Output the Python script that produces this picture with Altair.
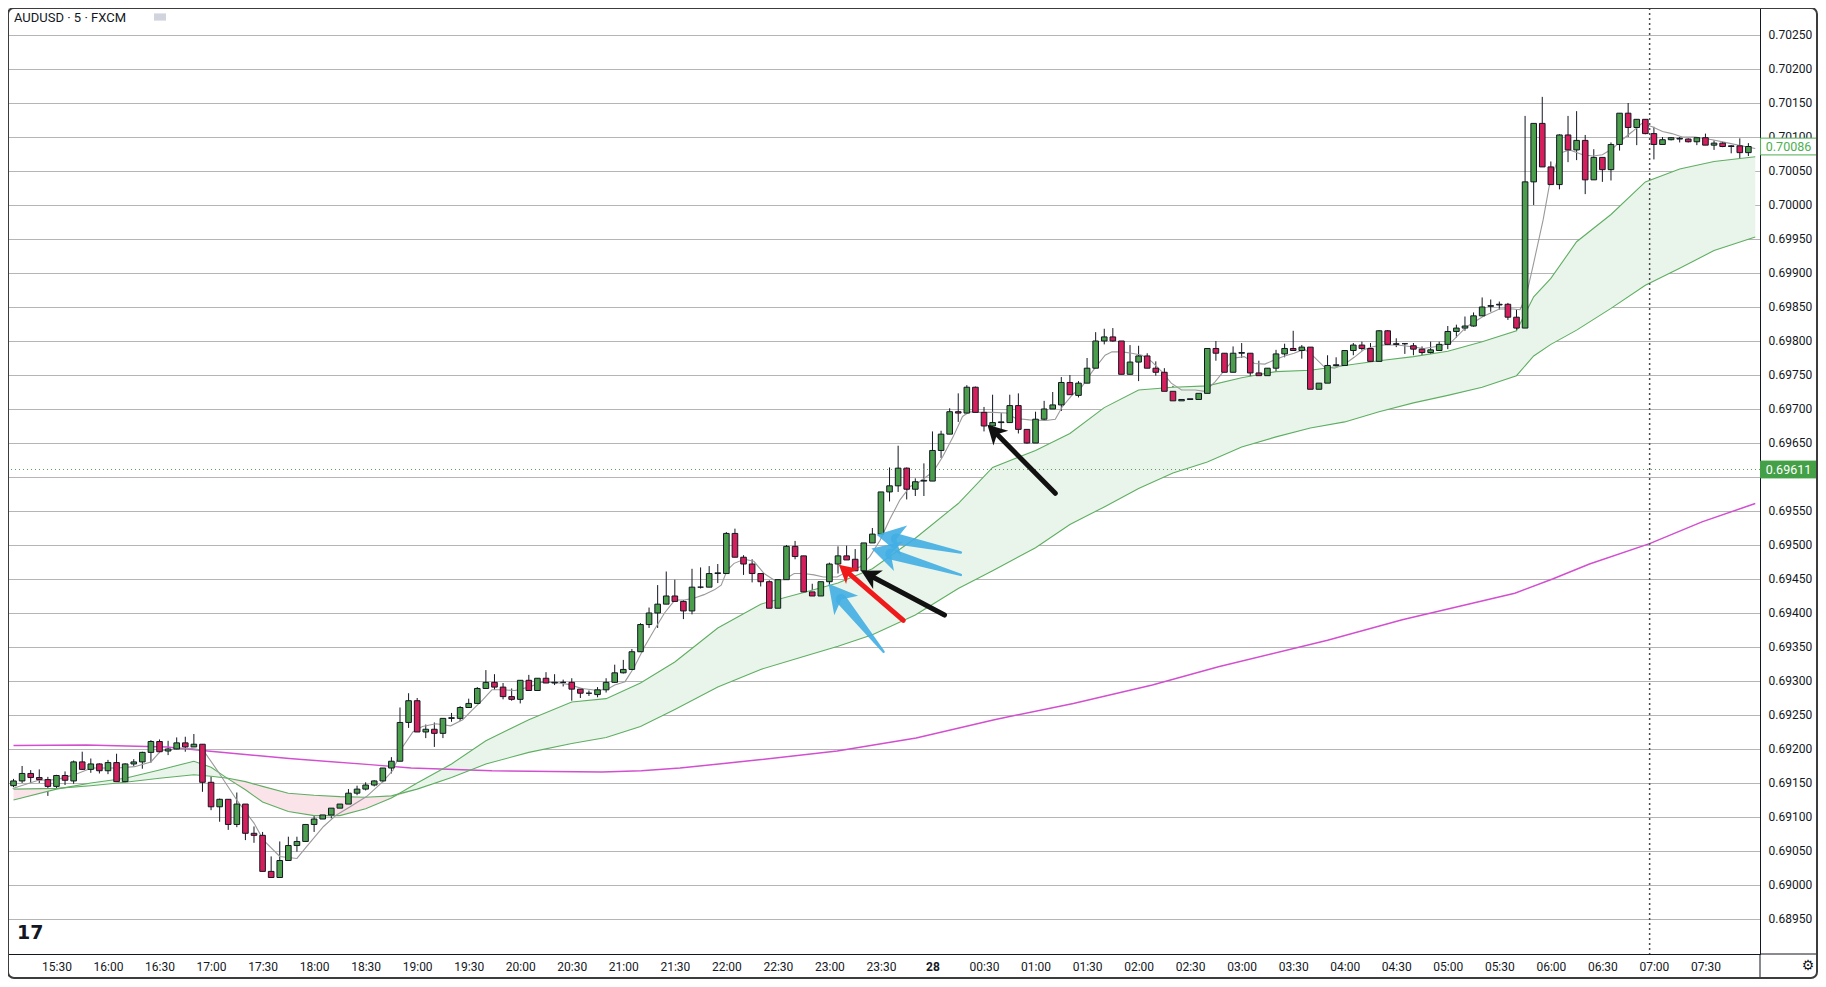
import math
import altair as alt
import pandas as pd

# ---------------- data ----------------
# 5-minute bars, index 0 = 15:30
bar_index = list(range(-5, 198))

open_ = [0.69146, 0.69153, 0.69164, 0.69158, 0.69155, 0.69145, 0.69161, 0.69153, 0.69181, 0.69170,
         0.69178, 0.69168, 0.69180, 0.69152, 0.69178, 0.69181, 0.69195, 0.69211, 0.69197, 0.69200,
         0.69209, 0.69203, 0.69207, 0.69151, 0.69115, 0.69126, 0.69089, 0.69119, 0.69076, 0.69073,
         0.69020, 0.69011, 0.69036, 0.69058, 0.69064, 0.69089, 0.69097, 0.69103, 0.69113, 0.69119,
         0.69135, 0.69141, 0.69147, 0.69153, 0.69172, 0.69182, 0.69239, 0.69271, 0.69225, 0.69229,
         0.69223, 0.69245, 0.69245, 0.69261, 0.69267, 0.69289, 0.69298, 0.69291, 0.69277, 0.69273,
         0.69301, 0.69286, 0.69304, 0.69297, 0.69298, 0.69298, 0.69288, 0.69282, 0.69280, 0.69287,
         0.69298, 0.69312, 0.69317, 0.69343, 0.69383, 0.69400, 0.69413, 0.69425, 0.69417, 0.69403,
         0.69438, 0.69438, 0.69458, 0.69458, 0.69517, 0.69482, 0.69472, 0.69458, 0.69446, 0.69407,
         0.69449, 0.69498, 0.69484, 0.69431, 0.69425, 0.69446, 0.69472, 0.69484, 0.69479, 0.69462,
         0.69503, 0.69516, 0.69578, 0.69587, 0.69613, 0.69582, 0.69594, 0.69594, 0.69639, 0.69663,
         0.69696, 0.69694, 0.69732, 0.69695, 0.69675, 0.69680, 0.69680, 0.69705, 0.69670, 0.69650,
         0.69685, 0.69700, 0.69706, 0.69739, 0.69720, 0.69738, 0.69760, 0.69800, 0.69806, 0.69800,
         0.69751, 0.69769, 0.69778, 0.69760, 0.69754, 0.69726, 0.69712, 0.69714, 0.69714, 0.69723,
         0.69789, 0.69782, 0.69754, 0.69782, 0.69782, 0.69753, 0.69749, 0.69760, 0.69781, 0.69789,
         0.69786, 0.69791, 0.69729, 0.69738, 0.69764, 0.69764, 0.69786, 0.69794, 0.69789, 0.69770,
         0.69815, 0.69796, 0.69796, 0.69793, 0.69788, 0.69783, 0.69786, 0.69795, 0.69814, 0.69819,
         0.69822, 0.69837, 0.69851, 0.69854, 0.69854, 0.69835, 0.69819, 0.70034, 0.70120, 0.70056,
         0.70030, 0.70103, 0.70081, 0.70095, 0.70037, 0.70070, 0.70052, 0.70089, 0.70135, 0.70114,
         0.70126, 0.70105, 0.70089, 0.70096, 0.70098, 0.70097, 0.70093, 0.70099, 0.70088, 0.70091,
         0.70087, 0.70087, 0.70077]

high = [0.69156, 0.69175, 0.69169, 0.69170, 0.69159, 0.69162, 0.69167, 0.69183, 0.69196, 0.69186,
        0.69179, 0.69184, 0.69193, 0.69179, 0.69185, 0.69196, 0.69213, 0.69214, 0.69212, 0.69217,
        0.69218, 0.69222, 0.69207, 0.69160, 0.69127, 0.69126, 0.69136, 0.69119, 0.69086, 0.69078,
        0.69042, 0.69064, 0.69071, 0.69071, 0.69089, 0.69106, 0.69115, 0.69122, 0.69127, 0.69141,
        0.69146, 0.69151, 0.69154, 0.69172, 0.69188, 0.69261, 0.69282, 0.69275, 0.69236, 0.69239,
        0.69245, 0.69253, 0.69263, 0.69274, 0.69291, 0.69316, 0.69310, 0.69297, 0.69289, 0.69301,
        0.69309, 0.69304, 0.69313, 0.69310, 0.69302, 0.69304, 0.69288, 0.69286, 0.69291, 0.69304,
        0.69324, 0.69331, 0.69347, 0.69385, 0.69408, 0.69441, 0.69461, 0.69449, 0.69419, 0.69465,
        0.69467, 0.69469, 0.69472, 0.69519, 0.69524, 0.69485, 0.69479, 0.69458, 0.69448, 0.69450,
        0.69500, 0.69506, 0.69484, 0.69443, 0.69446, 0.69474, 0.69498, 0.69499, 0.69494, 0.69503,
        0.69525, 0.69578, 0.69614, 0.69646, 0.69614, 0.69598, 0.69620, 0.69667, 0.69668, 0.69701,
        0.69723, 0.69735, 0.69733, 0.69703, 0.69721, 0.69694, 0.69721, 0.69723, 0.69670, 0.69696,
        0.69712, 0.69725, 0.69747, 0.69750, 0.69741, 0.69775, 0.69813, 0.69818, 0.69819, 0.69800,
        0.69794, 0.69793, 0.69782, 0.69770, 0.69760, 0.69734, 0.69730, 0.69727, 0.69728, 0.69789,
        0.69800, 0.69782, 0.69792, 0.69797, 0.69782, 0.69771, 0.69760, 0.69787, 0.69796, 0.69815,
        0.69794, 0.69791, 0.69738, 0.69779, 0.69776, 0.69786, 0.69797, 0.69799, 0.69797, 0.69816,
        0.69816, 0.69804, 0.69797, 0.69797, 0.69792, 0.69799, 0.69799, 0.69822, 0.69824, 0.69836,
        0.69842, 0.69864, 0.69861, 0.69858, 0.69856, 0.69846, 0.70131, 0.70120, 0.70159, 0.70064,
        0.70104, 0.70131, 0.70138, 0.70103, 0.70082, 0.70070, 0.70092, 0.70135, 0.70150, 0.70126,
        0.70126, 0.70115, 0.70100, 0.70100, 0.70100, 0.70098, 0.70100, 0.70105, 0.70095, 0.70093,
        0.70088, 0.70098, 0.70091]

low = [0.69144, 0.69150, 0.69150, 0.69150, 0.69131, 0.69142, 0.69147, 0.69149, 0.69169, 0.69165,
       0.69164, 0.69163, 0.69150, 0.69151, 0.69175, 0.69171, 0.69180, 0.69194, 0.69191, 0.69199,
       0.69196, 0.69203, 0.69137, 0.69110, 0.69093, 0.69081, 0.69085, 0.69066, 0.69062, 0.69020,
       0.69011, 0.69011, 0.69036, 0.69049, 0.69064, 0.69078, 0.69097, 0.69098, 0.69110, 0.69111,
       0.69132, 0.69139, 0.69145, 0.69151, 0.69164, 0.69182, 0.69231, 0.69225, 0.69216, 0.69203,
       0.69216, 0.69240, 0.69241, 0.69261, 0.69266, 0.69289, 0.69287, 0.69273, 0.69271, 0.69267,
       0.69286, 0.69286, 0.69297, 0.69294, 0.69292, 0.69271, 0.69275, 0.69278, 0.69276, 0.69283,
       0.69297, 0.69311, 0.69316, 0.69343, 0.69378, 0.69378, 0.69413, 0.69417, 0.69391, 0.69398,
       0.69436, 0.69438, 0.69444, 0.69458, 0.69482, 0.69456, 0.69445, 0.69439, 0.69407, 0.69400,
       0.69449, 0.69479, 0.69431, 0.69398, 0.69425, 0.69433, 0.69458, 0.69478, 0.69462, 0.69462,
       0.69503, 0.69516, 0.69564, 0.69578, 0.69567, 0.69572, 0.69572, 0.69594, 0.69628, 0.69663,
       0.69681, 0.69694, 0.69695, 0.69667, 0.69672, 0.69667, 0.69680, 0.69664, 0.69649, 0.69650,
       0.69683, 0.69700, 0.69697, 0.69721, 0.69717, 0.69738, 0.69760, 0.69795, 0.69799, 0.69751,
       0.69751, 0.69741, 0.69760, 0.69749, 0.69702, 0.69707, 0.69708, 0.69712, 0.69708, 0.69722,
       0.69771, 0.69754, 0.69754, 0.69775, 0.69744, 0.69745, 0.69749, 0.69751, 0.69776, 0.69786,
       0.69774, 0.69729, 0.69724, 0.69738, 0.69761, 0.69760, 0.69779, 0.69786, 0.69766, 0.69770,
       0.69795, 0.69791, 0.69781, 0.69779, 0.69768, 0.69778, 0.69786, 0.69788, 0.69805, 0.69815,
       0.69821, 0.69837, 0.69843, 0.69846, 0.69831, 0.69761, 0.69819, 0.70000, 0.70056, 0.70030,
       0.70023, 0.70063, 0.70066, 0.70016, 0.70037, 0.70034, 0.70036, 0.70080, 0.70100, 0.70088,
       0.70104, 0.70067, 0.70089, 0.70095, 0.70092, 0.70092, 0.70088, 0.70088, 0.70081, 0.70085,
       0.70076, 0.70066, 0.70072]

close = [0.69153, 0.69164, 0.69158, 0.69155, 0.69145, 0.69161, 0.69154, 0.69181, 0.69170, 0.69178,
         0.69168, 0.69180, 0.69152, 0.69178, 0.69181, 0.69195, 0.69211, 0.69196, 0.69200, 0.69209,
         0.69203, 0.69207, 0.69151, 0.69115, 0.69126, 0.69089, 0.69119, 0.69076, 0.69073, 0.69020,
         0.69011, 0.69036, 0.69058, 0.69064, 0.69089, 0.69097, 0.69103, 0.69113, 0.69119, 0.69135,
         0.69141, 0.69147, 0.69153, 0.69172, 0.69182, 0.69239, 0.69271, 0.69225, 0.69229, 0.69223,
         0.69245, 0.69246, 0.69261, 0.69267, 0.69289, 0.69298, 0.69291, 0.69277, 0.69273, 0.69301,
         0.69286, 0.69304, 0.69297, 0.69298, 0.69298, 0.69288, 0.69282, 0.69282, 0.69287, 0.69298,
         0.69312, 0.69317, 0.69343, 0.69383, 0.69400, 0.69413, 0.69425, 0.69417, 0.69403, 0.69438,
         0.69438, 0.69458, 0.69459, 0.69517, 0.69482, 0.69472, 0.69458, 0.69446, 0.69407, 0.69449,
         0.69498, 0.69483, 0.69431, 0.69425, 0.69446, 0.69472, 0.69484, 0.69478, 0.69462, 0.69503,
         0.69516, 0.69578, 0.69587, 0.69613, 0.69582, 0.69593, 0.69595, 0.69639, 0.69663, 0.69696,
         0.69694, 0.69732, 0.69695, 0.69675, 0.69680, 0.69681, 0.69705, 0.69670, 0.69650, 0.69685,
         0.69700, 0.69706, 0.69739, 0.69721, 0.69738, 0.69760, 0.69800, 0.69806, 0.69800, 0.69751,
         0.69769, 0.69778, 0.69760, 0.69754, 0.69726, 0.69712, 0.69714, 0.69715, 0.69723, 0.69789,
         0.69782, 0.69754, 0.69782, 0.69783, 0.69753, 0.69749, 0.69760, 0.69781, 0.69789, 0.69786,
         0.69791, 0.69729, 0.69738, 0.69764, 0.69765, 0.69786, 0.69794, 0.69789, 0.69770, 0.69815,
         0.69795, 0.69795, 0.69796, 0.69788, 0.69783, 0.69787, 0.69795, 0.69814, 0.69819, 0.69822,
         0.69837, 0.69850, 0.69852, 0.69853, 0.69835, 0.69819, 0.70034, 0.70120, 0.70056, 0.70030,
         0.70103, 0.70081, 0.70095, 0.70037, 0.70070, 0.70052, 0.70089, 0.70135, 0.70114, 0.70126,
         0.70105, 0.70089, 0.70096, 0.70099, 0.70097, 0.70093, 0.70099, 0.70088, 0.70091, 0.70086,
         0.70086, 0.70077, 0.70086]

# time axis
time_tick_index = [0, 6, 12, 18, 24, 30, 36, 42, 48, 54, 60, 66, 72, 78, 84, 90, 96,
                   102, 108, 114, 120, 126, 132, 138, 144, 150, 156, 162, 168, 174, 180, 186, 192]
time_tick_labels = ["15:30", "16:00", "16:30", "17:00", "17:30", "18:00", "18:30", "19:00",
                    "19:30", "20:00", "20:30", "21:00", "21:30", "22:00", "22:30", "23:00",
                    "23:30", "28", "00:30", "01:00", "01:30", "02:00", "02:30", "03:00",
                    "03:30", "04:00", "04:30", "05:00", "05:30", "06:00", "06:30", "07:00", "07:30"]
price_ticks = [0.6895, 0.6900, 0.6905, 0.6910, 0.6915, 0.6920, 0.6925, 0.6930, 0.6935,
               0.6940, 0.6945, 0.6950, 0.6955, 0.6960, 0.6965, 0.6970, 0.6975, 0.6980,
               0.6985, 0.6990, 0.6995, 0.7000, 0.7005, 0.7010, 0.7015, 0.7020, 0.7025]
hidden_price_label = 0.6960   # covered by the marked-price tag in the reference

# thin gray moving average
gray_i = [-5.1, -2.1, 0, 2.1, 4.1, 7.1, 9.1, 11.0, 12.2, 14.1,
          15.6, 17.1, 18.7, 21.0, 23.0, 24.1, 26.0, 28.0, 29.1, 31.1,
          32.6, 34.2, 36.1, 38.0, 39.2, 40.3, 41.5, 42.6, 44.2, 45.9,
          47.3, 48.4, 49.6, 50.7, 51.9, 53.4, 55.0, 56.5, 58.1, 59.6,
          61.2, 63.1, 64.3, 65.0, 66.2, 67.3, 68.5, 69.6, 70.8, 72.0,
          73.1, 74.3, 75.4, 76.6, 77.4, 78.1, 78.9, 80.1, 81.2, 82.4,
          83.5, 84.7, 85.9, 87.0, 88.2, 89.3, 90.9, 92.4, 93.6, 94.7,
          95.9, 97.0, 98.2, 99.4, 100.5, 102.1, 103.2, 104.4, 105.5, 106.3,
          107.5, 109.0, 110.6, 111.7, 113.3, 115.2, 116.3, 117.1, 118.3, 119.4,
          120.6, 122.1, 122.9, 124.1, 125.2, 126.4, 127.5, 128.7, 129.8, 131.0,
          132.6, 133.7, 134.9, 136.0, 137.2, 138.3, 139.5, 140.7, 141.8, 143.0,
          144.1, 145.3, 146.4, 147.6, 148.8, 149.9, 151.1, 152.2, 153.4, 154.5,
          156.1, 157.6, 159.2, 160.7, 162.3, 164.2, 166.1, 168.0, 169.6, 170.4,
          171.1, 171.9, 173.1, 173.8, 175.0, 176.2, 177.7, 178.9, 180.0, 181.2,
          182.3, 183.5, 184.6, 185.8, 187.0, 188.1, 189.3, 190.8, 192.8, 194.7,
          196.6, 197.8]
gray_p = [0.69142, 0.69154, 0.69155, 0.69162, 0.69172, 0.69172, 0.69174, 0.69181, 0.69198, 0.69200,
          0.69201, 0.69198, 0.69169, 0.69125, 0.69091, 0.69066, 0.69042, 0.69039, 0.69056, 0.69086,
          0.69103, 0.69115, 0.69130, 0.69152, 0.69169, 0.69203, 0.69225, 0.69233, 0.69237, 0.69234,
          0.69243, 0.69257, 0.69272, 0.69287, 0.69287, 0.69286, 0.69291, 0.69298, 0.69298, 0.69295,
          0.69289, 0.69286, 0.69289, 0.69294, 0.69299, 0.69321, 0.69351, 0.69375, 0.69400, 0.69419,
          0.69419, 0.69422, 0.69427, 0.69434, 0.69441, 0.69463, 0.69473, 0.69479, 0.69476, 0.69458,
          0.69449, 0.69449, 0.69458, 0.69458, 0.69456, 0.69453, 0.69453, 0.69463, 0.69468, 0.69483,
          0.69507, 0.69537, 0.69566, 0.69586, 0.69593, 0.69608, 0.69630, 0.69659, 0.69689, 0.69696,
          0.69695, 0.69695, 0.69694, 0.69686, 0.69684, 0.69683, 0.69685, 0.69703, 0.69721, 0.69733,
          0.69755, 0.69779, 0.69784, 0.69784, 0.69782, 0.69779, 0.69770, 0.69755, 0.69738, 0.69728,
          0.69728, 0.69726, 0.69740, 0.69757, 0.69775, 0.69777, 0.69767, 0.69766, 0.69772, 0.69778,
          0.69782, 0.69788, 0.69777, 0.69762, 0.69760, 0.69765, 0.69776, 0.69787, 0.69792, 0.69794,
          0.69794, 0.69792, 0.69789, 0.69792, 0.69797, 0.69821, 0.69836, 0.69847, 0.69847, 0.69846,
          0.69865, 0.69909, 0.69978, 0.70027, 0.70076, 0.70081, 0.70074, 0.70072, 0.70074, 0.70083,
          0.70096, 0.70108, 0.70120, 0.70115, 0.70108, 0.70105, 0.70100, 0.70100, 0.70096, 0.70091,
          0.70086, 0.70083]

# the two green averages (fast / slow) with the band between them
band_i = [-5, 0, 4, 8, 12, 16, 18, 20, 22, 24, 27, 30, 33, 36, 39, 42, 46, 50, 55, 60,
          64, 68, 72, 77, 82, 87, 91, 95, 100, 105, 109, 114, 118, 122, 126, 130, 134, 138,
          142, 146, 150, 154, 158, 162, 166, 170, 172, 174, 177, 181, 185, 189, 193, 197.8]
band_fast = [0.69125, 0.69141, 0.69150, 0.69157, 0.69169, 0.69182, 0.69173, 0.69156, 0.69140, 0.69122,
             0.69108, 0.69102, 0.69102, 0.69112, 0.69128, 0.69150, 0.69178, 0.69212, 0.69243, 0.69269,
             0.69274, 0.69297, 0.69328, 0.69378, 0.69413, 0.69430, 0.69444, 0.69465, 0.69510, 0.69561,
             0.69614, 0.69639, 0.69664, 0.69702, 0.69728, 0.69732, 0.69734, 0.69746, 0.69755, 0.69757,
             0.69764, 0.69771, 0.69777, 0.69785, 0.69799, 0.69815, 0.69865, 0.69892, 0.69946, 0.69986,
             0.70034, 0.70053, 0.70064, 0.70071]
band_slow = [0.69141, 0.69142, 0.69146, 0.69151, 0.69157, 0.69162, 0.69160, 0.69157, 0.69152, 0.69145,
             0.69135, 0.69132, 0.69130, 0.69129, 0.69131, 0.69141, 0.69158, 0.69178, 0.69195, 0.69208,
             0.69217, 0.69233, 0.69258, 0.69291, 0.69317, 0.69336, 0.69351, 0.69368, 0.69397, 0.69436,
             0.69462, 0.69496, 0.69530, 0.69556, 0.69583, 0.69606, 0.69622, 0.69644, 0.69659, 0.69672,
             0.69681, 0.69696, 0.69709, 0.69720, 0.69732, 0.69749, 0.69778, 0.69795, 0.69816, 0.69848,
             0.69882, 0.69907, 0.69933, 0.69953]

# long magenta average
ma_i = [-5, 3.5, 12.9, 17.6, 27.1, 36.5, 41.3, 50.7, 57.8, 63.5, 68.1, 72.6, 81.8, 90.9,
        100.1, 109.2, 118.4, 127.6, 135.3, 148.0, 156.7, 169.8, 174.2, 178.5, 185.5, 191.6, 197.8]
ma_p = [0.69205, 0.69206, 0.69203, 0.69197, 0.69186, 0.69177, 0.69172, 0.69168, 0.69167, 0.69166,
        0.69168, 0.69172, 0.69184, 0.69197, 0.69216, 0.69243, 0.69267, 0.69294, 0.69321, 0.69360,
        0.69390, 0.69429, 0.69450, 0.69472, 0.69502, 0.69534, 0.69561]

crosshair_i = [185.5]
last_price = [0.70086]
marked_price = [0.69611]

# hand-drawn arrows (tail -> head)
arrow_kind = ["blue", "blue", "blue", "red", "black", "black"]
arrow_tail_i = [96.3, 105.3, 105.3, 98.6, 103.4, 116.3]
arrow_tail_p = [0.69343, 0.69489, 0.69456, 0.69389, 0.69397, 0.69576]
arrow_head_i = [89.9, 95.5, 94.9, 91.1, 93.7, 108.4]
arrow_head_p = [0.69443, 0.69515, 0.69495, 0.69471, 0.69462, 0.69677]

# ---------------- styling ----------------
W, H = 1752, 946
X0, X1 = -5.06, 197.77
Y0, Y1 = 0.688985, 0.702897
FONT = "Roboto"
TXT = "#131722"
UP = "#4a9e4c"
DOWN = "#d41f5c"
GREEN_LINE = "#5fae62"
ARROW_STYLE = {
    "blue": {"color": "#41aee3", "w0": 2.5, "w1": 11, "head": 28, "opacity": 0.9},
    "red": {"color": "#f01a1a", "w0": 5, "w1": 5, "head": 18, "opacity": 1.0},
    "black": {"color": "#111111", "w0": 5, "w1": 5, "head": 19, "opacity": 1.0},
}
HEAD_PATH = "M0,0L0.55,1L0,0.72L-0.55,1Z"
BOX_PATH = "M-1,-0.3L1,-0.3L1,0.3L-1,0.3Z"

xs = alt.Scale(domain=[X0, X1], nice=False, zero=False)
ys = alt.Scale(domain=[Y0, Y1], nice=False, zero=False)


def X(field):
    return alt.X(field, scale=xs, title=None)


def Y(field):
    return alt.Y(field, scale=ys, title=None)


n = min(len(bar_index), len(open_), len(high), len(low), len(close))
candles = pd.DataFrame({"i": bar_index[:n], "o": open_[:n], "h": high[:n],
                        "l": low[:n], "c": close[:n]})
candles["dir"] = ["up" if c >= o else "down" for o, c in zip(candles["o"], candles["c"])]

label_js = "[" + ",".join("'" + t + "'" for t in time_tick_labels) + "]"
x_axis = alt.Axis(values=time_tick_index, labelExpr=label_js + "[round(datum.value/6)]",
                  tickCount=60, grid=False, ticks=False, tickSize=0, labelPadding=7, title=None,
                  domainColor=TXT, domainWidth=1, labelFont=FONT, labelFontSize=12,
                  labelColor=TXT, labelOverlap=False, labelFlush=False,
                  labelFontWeight={"condition": {"test": "datum.value == 102", "value": "bold"},
                                   "value": "normal"})
y_axis = alt.Axis(orient="right", values=price_ticks, tickCount=60, grid=True,
                  labelExpr=("abs(datum.value - %r) < 1e-7 ? '' : format(datum.value, '.5f')"
                             % hidden_price_label),
                  gridColor="#b5b5b5", gridWidth=1, ticks=False, tickSize=0, labelPadding=8,
                  title=None, domainColor=TXT, domainWidth=1, labelFont=FONT, labelFontSize=12,
                  labelColor=TXT, labelOverlap=False, labelAlign="left", labelFlush=False)

band = pd.DataFrame({"i": band_i, "a": band_fast, "b": band_slow})
gray = pd.DataFrame({"i": gray_i[:len(gray_p)], "p": gray_p[:len(gray_i)]})
ma = pd.DataFrame({"i": ma_i, "p": ma_p})

# wicks carry the axes
wicks = alt.Chart(candles).mark_rule(color=TXT, strokeWidth=1, clip=True).encode(
    x=alt.X("i:Q", scale=xs, axis=x_axis, title=None),
    y=alt.Y("l:Q", scale=ys, axis=y_axis, title=None), y2="h:Q")

green_fill = alt.Chart(band).transform_calculate(lo="min(datum.a, datum.b)").mark_area(
    color="#e9f5ea", clip=True).encode(x=X("i:Q"), y=Y("a:Q"), y2="lo:Q")
pink_fill = alt.Chart(band).transform_calculate(lo="min(datum.a, datum.b)").mark_area(
    color="#fbe3ea", clip=True).encode(x=X("i:Q"), y=Y("b:Q"), y2="lo:Q")

fast_line = alt.Chart(band).mark_line(color=GREEN_LINE, strokeWidth=1.1, clip=True).encode(
    x=X("i:Q"), y=Y("a:Q"))
slow_line = alt.Chart(band).mark_line(color=GREEN_LINE, strokeWidth=1.1, clip=True).encode(
    x=X("i:Q"), y=Y("b:Q"))
ma_line = alt.Chart(ma).mark_line(color="#d24fd0", strokeWidth=1.5, clip=True).encode(
    x=X("i:Q"), y=Y("p:Q"))
gray_line = alt.Chart(gray).mark_line(color="#9a9a9a", strokeWidth=1.1, clip=True).encode(
    x=X("i:Q"), y=Y("p:Q"))

price_line = alt.Chart(pd.DataFrame({"p": marked_price})).mark_rule(
    color="#5f9f62", strokeDash=[1, 3], strokeWidth=1).encode(y=Y("p:Q"))

bodies = alt.Chart(candles).mark_bar(size=5.6, stroke=TXT, strokeWidth=1, clip=True).encode(
    x=X("i:Q"), y=Y("o:Q"), y2="c:Q",
    fill=alt.Fill("dir:N", scale=alt.Scale(domain=["up", "down"], range=[UP, DOWN]), legend=None))

crosshair = alt.Chart(pd.DataFrame({"i": crosshair_i})).mark_rule(
    color="#4a4a4a", strokeDash=[2, 3], strokeWidth=1.5).encode(x=X("i:Q"))

# arrows: tapered shaft (trail) + notched head
px_i = W / (X1 - X0)
px_p = H / (Y1 - Y0)
heads, shafts = [], []
for idx, (k, ti, tp, hi, hp) in enumerate(zip(arrow_kind, arrow_tail_i, arrow_tail_p,
                                              arrow_head_i, arrow_head_p)):
    st = ARROW_STYLE[k]
    dx = (hi - ti) * px_i
    dy = -(hp - tp) * px_p
    L = math.hypot(dx, dy)
    ux, uy = dx / L, dy / L
    ang = math.degrees(math.atan2(ux, -uy)) % 360
    back = st["head"] * 0.72
    heads.append({"kind": k, "hi": hi, "hp": hp, "ang": ang})
    shafts.append({"id": idx, "kind": k, "x": ti, "y": tp, "w": st["w0"], "o": 0})
    shafts.append({"id": idx, "kind": k, "x": hi - back * ux / px_i,
                   "y": hp + back * uy / px_p, "w": st["w1"], "o": 1})
heads = pd.DataFrame(heads)
shafts = pd.DataFrame(shafts)

arrow_layers = []
for k in ["blue", "red", "black"]:
    st = ARROW_STYLE[k]
    shaft = alt.Chart(shafts[shafts["kind"] == k]).mark_trail(
        color=st["color"], opacity=st["opacity"]).encode(
        x=X("x:Q"), y=Y("y:Q"), size=alt.Size("w:Q", scale=None, legend=None),
        detail="id:N", order="o:Q")
    head = alt.Chart(heads[heads["kind"] == k]).mark_point(
        shape=HEAD_PATH, filled=True, color=st["color"], opacity=st["opacity"],
        strokeWidth=0, size=4 * st["head"] ** 2).encode(
        x=X("hi:Q"), y=Y("hp:Q"), angle=alt.Angle("ang:Q", scale=None))
    arrow_layers += [shaft, head]

# price tags on the right scale
TAG_X = W + 28.5
tag_last_box = alt.Chart(pd.DataFrame({"p": last_price})).mark_point(
    shape=BOX_PATH, filled=True, fill="white", stroke="#4caf50", strokeWidth=1,
    size=56 ** 2, opacity=1).encode(x=alt.value(TAG_X), y=Y("p:Q"))
tag_last_txt = alt.Chart(pd.DataFrame({"p": last_price})).mark_text(
    font=FONT, fontSize=12.5, color="#4caf50", align="center", baseline="middle").encode(
    x=alt.value(TAG_X), y=Y("p:Q"), text=alt.Text("p:Q", format=".5f"))
tag_mark_box = alt.Chart(pd.DataFrame({"p": marked_price})).mark_point(
    shape=BOX_PATH, filled=True, fill="#43a047", stroke="#43a047", strokeWidth=1,
    size=56 ** 2, opacity=1).encode(x=alt.value(TAG_X), y=Y("p:Q"))
tag_mark_txt = alt.Chart(pd.DataFrame({"p": marked_price})).mark_text(
    font=FONT, fontSize=12.5, color="white", align="center", baseline="middle").encode(
    x=alt.value(TAG_X), y=Y("p:Q"), text=alt.Text("p:Q", format=".5f"))

# decorations: title, logo, frame
one = pd.DataFrame({"k": [0]})
title = alt.Chart(one).mark_text(text="AUDUSD · 5 · FXCM", font=FONT, fontSize=13, color=TXT,
                                 align="left", baseline="middle").encode(
    x=alt.value(6), y=alt.value(10))
pill = alt.Chart(one).mark_point(shape="M-1,-0.6L1,-0.6L1,0.6L-1,0.6Z", filled=True,
                                 color="#d1d4dc", size=144, opacity=1).encode(
    x=alt.value(152), y=alt.value(9))
logo = alt.Chart(one).mark_text(text="17", font="DejaVu Sans", fontWeight="bold", fontSize=19,
                                color=TXT, align="left", baseline="middle").encode(
    x=alt.value(9), y=alt.value(925))
gear = alt.Chart(one).mark_text(text="⚙", font="DejaVu Sans", fontSize=14, color=TXT,
                                align="center", baseline="middle").encode(
    x=alt.value(W + 48), y=alt.value(H + 12))
axis_ext_h = alt.Chart(one).mark_rule(color=TXT, strokeWidth=1).encode(
    x=alt.value(W), x2=alt.value(W + 57), y=alt.value(H), y2=alt.value(H))
axis_ext_v = alt.Chart(one).mark_rule(color=TXT, strokeWidth=1).encode(
    x=alt.value(W), x2=alt.value(W), y=alt.value(H), y2=alt.value(H + 24))
frame = alt.Chart(one).mark_rect(fillOpacity=0, stroke="#3c3c3c", strokeWidth=2,
                                 cornerRadius=6).encode(
    x=alt.value(0), x2=alt.value(W + 57), y=alt.value(0), y2=alt.value(H + 24))

chart = alt.layer(
    wicks, green_fill, pink_fill, ma_line, fast_line, slow_line, price_line, gray_line,
    bodies, crosshair, *arrow_layers,
    tag_last_box, tag_last_txt, tag_mark_box, tag_mark_txt,
    title, pill, logo, gear, axis_ext_h, axis_ext_v, frame,
).properties(
    width=W, height=H,
    autosize=alt.AutoSizeParams(type="none"),
    padding={"left": 0, "top": 0, "right": 58, "bottom": 25},
).configure_view(stroke=None).configure(background="white")

chart.save("out.html", embed_options={"renderer": "svg", "actions": False})
